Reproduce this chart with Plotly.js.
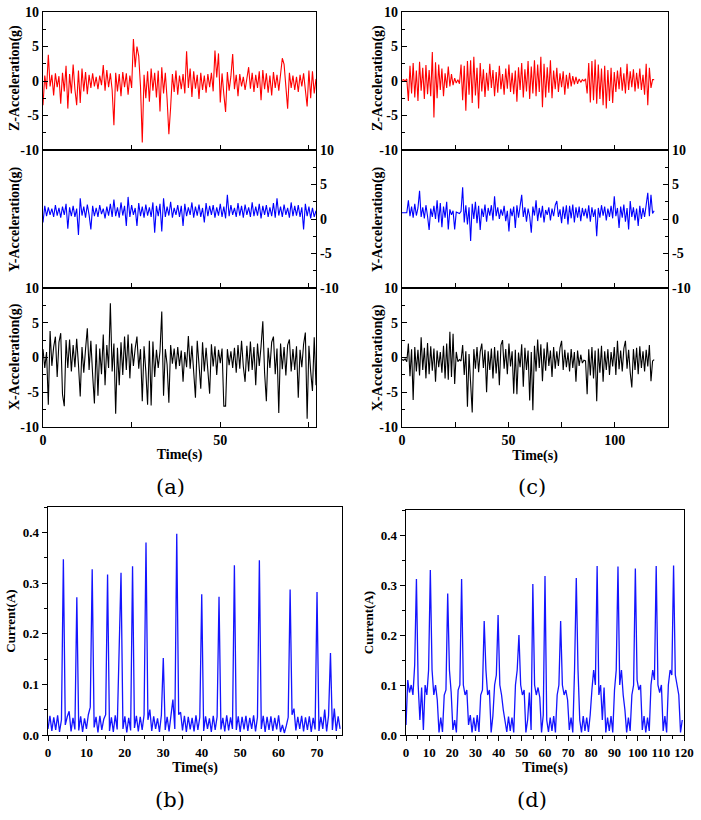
<!DOCTYPE html>
<html>
<head>
<meta charset="utf-8">
<script src="https://cdn.plot.ly/plotly-3.0.1.min.js"></script>
<style>
  body { margin: 0; background: #fff; }
  #chart { width: 701px; height: 820px; }
</style>
</head>
<body>
<div id="chart"></div>
<script>
// (a) accelerations, 0..77 s, one sample every 0.5 s
var stepA = 0.5;
var accZa = [-3.5,0.8,-1.2,3.8,-0.8,0.9,-2.1,1.1,-0.9,0.7,-3.3,1.2,-1.5,2.2,-4.0,1.0,-1.8,2.4,-1.2,-3.5,
  1.5,-3.2,1.8,-1.5,1.3,-1.9,0.9,-1.0,1.1,-0.8,0.6,-1.2,0.8,-0.6,2.3,-1.4,1.6,-0.9,1.1,-1.3,
  -6.4,1.2,-1.5,1.0,-2.2,1.3,-0.9,1.1,-2.0,0.8,-1.0,6.1,2.0,5.0,3.6,-0.8,-8.9,0.9,-2.5,1.4,
  -3.0,1.8,-1.4,1.2,-2.4,1.5,-4.4,2.0,-1.8,1.2,-2.6,-7.7,-3.8,1.0,-1.6,1.5,-2.0,0.8,-1.2,1.0,
  -1.8,4.3,-1.0,1.8,-2.3,1.4,-1.1,0.9,-2.6,1.2,-1.3,0.8,-1.7,1.0,-0.9,1.2,-1.5,4.4,0.5,4.0,
  -3.1,1.1,-1.9,-4.5,1.3,-1.4,0.7,3.9,-1.2,0.9,-2.2,1.0,-0.8,0.6,-1.3,0.7,2.0,-1.1,1.2,-1.6,
  0.9,-1.0,1.4,-2.8,1.6,-1.2,1.1,-1.7,0.8,-2.1,1.3,-1.0,0.9,-1.4,1.0,3.3,2.4,-1.5,-4.0,1.2,
  -1.0,0.8,-1.3,0.6,-1.6,0.9,-0.8,1.1,-1.2,-3.7,1.5,-2.5,1.4,-1.8,0.3];
var accYa = [-0.5,1.9,0.4,1.7,0.6,1.5,0.3,2.0,0.5,1.6,0.2,1.8,0.6,2.2,-1.4,1.7,0.4,1.9,0.3,1.5,
  -2.3,3.0,0.5,1.8,0.2,2.1,0.6,-1.5,1.9,0.4,1.6,0.3,2.0,0.7,1.5,0.1,1.8,0.5,2.2,0.3,
  2.8,0.4,1.7,0.2,2.4,0.5,1.9,-1.0,3.2,0.3,2.0,0.6,1.6,-1.0,2.3,0.4,1.8,0.2,2.1,0.5,
  1.7,0.3,2.4,-2.0,1.9,0.4,2.2,-1.8,3.0,0.3,1.8,0.5,2.5,0.2,1.6,0.6,2.0,0.3,1.9,-1.0,
  2.2,0.4,1.7,0.6,2.4,0.2,1.8,0.5,2.1,0.3,1.6,-0.5,2.3,0.4,1.9,0.6,2.0,0.2,1.7,0.5,
  2.2,0.3,1.8,0.1,3.5,0.4,2.0,0.6,1.6,0.3,2.3,0.5,1.9,0.2,2.1,0.6,1.7,0.3,2.4,0.4,
  1.8,0.5,2.2,0.1,1.9,0.6,2.0,0.3,1.7,0.4,2.3,0.2,3.0,0.5,1.8,0.3,2.1,0.6,1.6,0.2,
  2.4,0.4,1.9,0.5,2.0,0.3,1.7,-1.5,2.2,0.4,1.8,0.1,1.6,0.3,1.2];
var accXa = [1.2,-1.5,0.8,-6.8,3.8,-1.2,1.5,3.0,-2.8,2.2,3.5,-5.3,-7.0,2.5,-1.5,2.6,-2.0,1.8,-1.4,2.7,
  -1.0,-5.6,1.5,-2.2,1.2,4.2,-1.8,2.4,-2.5,-6.6,1.9,-5.5,1.3,-2.4,3.3,-4.0,1.8,-1.5,7.8,-2.0,
  2.0,-8.1,1.4,-4.0,2.2,-2.5,3.0,-1.8,3.3,-3.0,2.0,-1.2,1.3,3.0,-1.6,1.2,-6.3,1.6,-2.0,-6.8,
  2.4,-6.9,2.3,-2.8,1.1,-1.5,0.9,6.6,-5.5,1.2,-1.0,-6.5,1.8,-0.9,1.3,-1.7,1.5,-1.2,1.0,-3.5,
  0.8,-1.4,3.1,-1.6,1.7,-2.1,-5.8,2.4,-1.5,-4.5,2.2,-2.0,1.4,-1.6,-5.2,1.9,-1.3,1.6,-2.5,1.1,
  -0.8,1.3,-7.0,-7.0,1.2,-1.1,0.9,-1.5,1.4,-2.2,1.8,-1.6,2.4,-1.3,-3.5,1.7,-2.0,2.3,-1.8,1.5,
  -4.0,2.0,-1.2,1.6,5.2,-2.2,-6.3,1.4,-1.5,2.2,3.0,-2.4,1.3,-8.0,2.0,-1.7,1.5,-2.6,1.8,2.6,
  -2.0,1.2,-1.8,1.6,-5.8,1.1,-1.4,1.9,3.6,-8.8,1.7,-2.0,-4.8,2.9,-4.0];

// (c) accelerations, 0..118.5 s, one sample every 0.75 s
var stepC = 0.75;
var accZc = [0.1,0.2,0.0,0.3,-2.9,2.2,-1.8,2.6,-2.4,1.5,-2.9,2.8,-1.4,1.9,-2.6,2.3,-1.9,1.6,-2.2,4.2,
  -5.3,2.7,-2.5,2.4,-1.3,1.8,-2.2,1.1,-1.0,2.1,-0.8,1.0,-0.6,0.4,-0.3,0.2,-0.4,2.4,-2.8,2.2,
  -4.3,2.9,-2.0,3.0,-3.2,3.5,-2.1,1.9,-4.0,2.6,-1.5,1.7,-2.3,1.2,-1.4,2.5,-1.0,1.6,-2.2,1.3,
  -1.7,2.2,-1.2,1.0,-2.0,1.8,-1.1,2.4,-1.6,1.2,-1.9,1.5,-3.0,2.0,-1.3,2.6,-2.4,1.7,-1.5,2.9,
  -2.6,2.1,-1.8,3.0,-2.2,2.4,-1.6,3.5,-3.8,2.5,-2.4,2.0,-1.7,3.0,-2.5,1.5,-1.2,1.9,-1.6,1.1,
  -0.9,1.4,-2.0,0.9,-1.1,1.2,-0.8,0.7,-0.5,0.6,-0.4,0.3,-0.2,0.2,0.0,0.3,-1.8,2.6,-3.1,2.9,
  -2.8,3.1,-3.3,2.4,-2.6,1.8,-3.5,2.2,-4.0,1.6,-2.9,1.9,-3.2,1.3,-1.6,1.5,-1.2,2.0,-1.4,1.1,
  -1.8,2.5,-1.3,1.4,-0.9,1.7,-1.5,1.2,-1.1,1.8,-1.3,0.9,-2.0,2.5,-3.5,1.9,-1.0,0.2,0.2];
var accYc = [0.9,0.9,1.0,0.9,2.7,0.4,1.8,0.2,2.2,0.5,1.6,4.1,0.3,1.7,0.1,2.0,0.4,-1.6,1.5,0.3,
  1.9,0.0,2.7,-0.5,2.3,-1.2,1.8,0.2,2.5,-1.5,1.4,0.6,1.2,-1.5,1.0,0.9,0.8,1.1,4.6,-0.5,
  2.0,-0.8,1.7,-3.2,2.2,0.0,2.5,-0.6,1.9,-1.6,1.5,0.3,2.1,-0.4,1.6,0.5,2.0,-0.2,3.3,0.4,
  1.7,0.0,1.4,0.5,1.9,-0.3,1.2,-1.8,1.5,0.4,1.8,-1.3,2.0,0.2,1.6,3.5,0.3,1.7,-0.4,1.5,
  0.4,-2.0,1.8,0.5,2.7,-0.3,1.6,0.2,1.9,-0.5,1.3,0.6,1.7,-0.2,1.5,0.4,2.0,2.6,0.3,1.4,
  -0.6,1.8,0.0,2.0,-0.8,1.9,0.1,2.1,-0.5,1.7,0.2,1.8,-0.3,1.6,0.4,1.5,0.1,2.0,-0.4,1.7,
  0.3,1.4,-2.5,1.6,0.2,2.0,0.5,1.8,-0.2,1.5,0.3,1.9,0.1,3.3,0.4,1.6,-1.3,1.8,0.2,2.1,
  -0.4,1.6,-1.5,2.6,0.3,1.7,-0.2,1.5,-1.0,1.9,0.0,1.6,0.3,2.2,3.8,0.4,3.5,0.8,1.2];
var accXc = [-0.3,-0.4,-0.2,-0.6,2.0,-2.7,1.2,-6.1,1.5,-2.0,1.1,-2.6,2.9,-1.8,1.4,-3.0,2.1,-2.4,1.6,-1.9,
  1.3,-3.5,1.0,-1.4,0.8,-2.2,1.7,-3.0,2.0,-3.2,3.7,-2.8,3.4,-3.8,0.8,-0.6,-0.3,-0.5,1.8,-2.5,
  0.9,-7.1,0.5,-5.0,-7.9,1.2,-1.6,1.5,-2.1,0.8,2.0,-1.5,1.1,-5.0,0.9,-1.8,1.3,-3.0,1.5,-2.3,
  1.0,-4.0,1.8,2.5,-1.6,1.2,-2.4,2.0,-1.3,0.9,-5.2,1.1,-5.3,0.7,-1.4,1.9,-4.2,1.4,-1.8,1.0,
  -6.2,0.8,-7.6,1.7,-2.0,2.6,-1.5,1.9,-3.4,1.3,-1.9,2.2,-1.2,1.0,-2.8,1.5,-1.6,0.9,-1.2,1.4,
  2.4,-1.8,1.1,-1.4,0.7,-2.0,1.2,-1.5,0.8,-3.5,1.0,-1.2,0.4,-0.8,-0.4,-0.5,-5.3,1.2,-2.6,1.5,
  -3.0,1.0,-6.3,1.3,-2.2,1.7,-3.5,0.9,-1.8,1.2,-2.5,0.8,-1.3,1.5,-2.5,2.4,-1.7,1.0,-2.0,1.3,
  2.4,-1.6,1.1,-2.2,-4.3,1.2,-1.8,1.4,-2.4,1.6,-1.5,0.9,-2.0,1.1,-1.3,1.8,-3.4,-0.5,-0.3];

// (b) current, 0..76 s, one sample every 0.5 s
var stepB = 0.5;
var currentB = [0.012,0.038,0.008,0.035,0.010,0.039,0.006,0.030,0.347,0.020,0.036,0.047,0.007,0.034,0.011,0.272,0.009,0.037,0.006,0.033,
  0.012,0.040,0.055,0.327,0.015,0.036,0.005,0.038,0.010,0.031,0.040,0.317,0.008,0.035,0.006,0.039,0.011,0.170,0.320,0.012,
  0.037,0.005,0.034,0.009,0.333,0.014,0.038,0.007,0.036,0.010,0.040,0.380,0.030,0.050,0.008,0.037,0.012,0.033,0.006,0.039,
  0.152,0.010,0.036,0.007,0.035,0.070,0.012,0.397,0.040,0.045,0.009,0.038,0.006,0.036,0.011,0.034,0.007,0.039,0.010,0.035,
  0.278,0.008,0.037,0.012,0.033,0.006,0.038,0.010,0.036,0.273,0.011,0.034,0.007,0.039,0.009,0.035,0.012,0.335,0.010,0.037,
  0.006,0.036,0.011,0.038,0.008,0.034,0.012,0.039,0.007,0.035,0.345,0.012,0.038,0.006,0.036,0.010,0.037,0.008,0.034,0.011,
  0.039,0.006,0.020,0.004,0.018,0.035,0.287,0.040,0.052,0.009,0.036,0.012,0.038,0.007,0.035,0.010,0.037,0.006,0.034,0.011,
  0.282,0.008,0.036,0.012,0.050,0.007,0.038,0.162,0.010,0.052,0.008,0.037,0.012];

// (d) current, 0..119.25 s, one sample every 0.75 s
var stepD = 0.75;
var currentD = [0.020,0.110,0.085,0.100,0.080,0.140,0.312,0.100,0.030,0.095,0.010,0.100,0.080,0.130,0.330,0.130,0.080,0.100,0.070,0.005,
  0.035,0.006,0.080,0.090,0.283,0.130,0.085,0.010,0.030,0.005,0.090,0.100,0.312,0.100,0.080,0.090,0.020,0.040,0.005,0.035,
  0.008,0.040,0.006,0.080,0.090,0.228,0.130,0.080,0.090,0.005,0.038,0.100,0.120,0.240,0.100,0.080,0.050,0.030,0.006,0.037,
  0.008,0.035,0.005,0.100,0.130,0.200,0.100,0.080,0.090,0.005,0.030,0.085,0.010,0.302,0.100,0.080,0.095,0.075,0.005,0.040,
  0.318,0.030,0.006,0.035,0.008,0.038,0.005,0.080,0.100,0.228,0.100,0.080,0.090,0.070,0.010,0.035,0.005,0.130,0.314,0.130,
  0.030,0.005,0.038,0.008,0.035,0.006,0.040,0.090,0.130,0.100,0.338,0.080,0.100,0.030,0.095,0.005,0.035,0.008,0.038,0.005,
  0.090,0.130,0.337,0.100,0.130,0.080,0.050,0.005,0.035,0.008,0.080,0.100,0.333,0.110,0.090,0.100,0.010,0.038,0.005,0.035,
  0.008,0.100,0.130,0.110,0.338,0.100,0.085,0.100,0.008,0.038,0.005,0.100,0.130,0.120,0.339,0.120,0.100,0.080,0.005,0.030];

// tick labels
var accTickVals = [-10, -5, 0, 5, 10];
var accTickText = ['-10', '-5', '0', '5', '10'];
var timeTickValsA = [0, 25, 50, 75];
var timeTickTextA = ['0', '', '50', ''];
var timeTickValsC = [0, 25, 50, 75, 100, 125];
var timeTickTextC = ['0', '', '50', '', '100', ''];
var captions = ['(a)', '(b)', '(c)', '(d)'];

var W = 701, H = 820;
function px(x) { return x / W; }
function py(y) { return 1 - y / H; }

var tickFont = {family: 'Liberation Serif', size: 14, color: '#000', weight: 'bold'};
var titleFont = {family: 'Liberation Serif', size: 14, color: '#000', weight: 'bold'};

function accX(dom, range, vals, text, labels) {
  return {
    domain: dom, range: range, tickmode: 'array', tickvals: vals, ticktext: text,
    showticklabels: labels, ticks: 'inside', ticklen: 5, tickwidth: 1, tickcolor: '#000',
    showline: true, linecolor: '#000', linewidth: 1.3, mirror: true,
    showgrid: false, zeroline: false, tickfont: tickFont, fixedrange: true
  };
}
function accY(dom, side) {
  return {
    domain: dom, range: [-10, 10], side: side, tickmode: 'array',
    tickvals: accTickVals, ticktext: accTickText,
    ticks: 'inside', ticklen: 5, tickwidth: 1, tickcolor: '#000',
    minor: {dtick: 2.5, ticks: 'inside', ticklen: 3, tickcolor: '#000', showgrid: false},
    showline: true, linecolor: '#000', linewidth: 1.3, mirror: true,
    showgrid: false, zeroline: false, tickfont: tickFont, fixedrange: true
  };
}
function curX(dom, range, dtick) {
  return {
    domain: dom, range: range, dtick: dtick, tick0: 0,
    ticks: 'outside', ticklen: 5, tickwidth: 1, tickcolor: '#000',
    minor: {dtick: dtick / 2, ticks: 'outside', ticklen: 3, tickcolor: '#000', showgrid: false},
    showline: true, linecolor: '#000', linewidth: 1.3, mirror: true,
    showgrid: false, zeroline: false, tickfont: {family: 'Liberation Serif', size: 13, color: '#000', weight: 'bold'},
    title: {text: 'Time(s)', font: titleFont, standoff: 2}, fixedrange: true
  };
}
function curY(dom) {
  return {
    domain: dom, range: [0, 0.45], dtick: 0.1, tick0: 0, tickformat: '.1f',
    ticks: 'outside', ticklen: 5, tickwidth: 1, tickcolor: '#000',
    minor: {dtick: 0.05, ticks: 'outside', ticklen: 3, tickcolor: '#000', showgrid: false},
    showline: true, linecolor: '#000', linewidth: 1.3, mirror: true,
    showgrid: false, zeroline: false, tickfont: {family: 'Liberation Serif', size: 13, color: '#000', weight: 'bold'},
    title: {text: 'Current(A)', font: {family: 'Liberation Serif', size: 13, color: '#000', weight: 'bold'}, standoff: 4},
    fixedrange: true
  };
}

function line(y, step, color, xa, ya, w) {
  return {y: y, x0: 0, dx: step, type: 'scatter', mode: 'lines',
    line: {color: color, width: w}, xaxis: xa, yaxis: ya, hoverinfo: 'skip'};
}

var data = [
  line(accZa, stepA, '#ff0000', 'x', 'y', 1.1),
  line(accYa, stepA, '#0000ff', 'x2', 'y2', 1.1),
  line(accXa, stepA, '#000000', 'x3', 'y3', 1.1),
  line(accZc, stepC, '#ff0000', 'x4', 'y4', 1.1),
  line(accYc, stepC, '#0000ff', 'x5', 'y5', 1.1),
  line(accXc, stepC, '#000000', 'x6', 'y6', 1.1),
  line(currentB, stepB, '#1414ff', 'x7', 'y7', 1.3),
  line(currentD, stepD, '#1414ff', 'x8', 'y8', 1.3)
];

var domA = [px(43), px(316)], domC = [px(402), px(668)];
var dZ = [py(150), py(12)], dY = [py(288), py(150)], dX = [py(427), py(288)];

var layout = {
  width: W, height: H, margin: {l: 0, r: 0, t: 0, b: 0},
  paper_bgcolor: '#fff', plot_bgcolor: '#fff', showlegend: false,
  xaxis: accX(domA, [0, 77], timeTickValsA, timeTickTextA, false),
  xaxis2: accX(domA, [0, 77], timeTickValsA, timeTickTextA, false),
  xaxis3: Object.assign(accX(domA, [0, 77], timeTickValsA, timeTickTextA, true),
    {title: {text: 'Time(s)', font: titleFont, standoff: 2}}),
  xaxis4: accX(domC, [0, 125], timeTickValsC, timeTickTextC, false),
  xaxis5: accX(domC, [0, 125], timeTickValsC, timeTickTextC, false),
  xaxis6: Object.assign(accX(domC, [0, 125], timeTickValsC, timeTickTextC, true),
    {title: {text: 'Time(s)', font: titleFont, standoff: 2}}),
  yaxis: Object.assign(accY(dZ, 'left'), {anchor: 'x'}),
  yaxis2: Object.assign(accY(dY, 'right'), {anchor: 'x2'}),
  yaxis3: Object.assign(accY(dX, 'left'), {anchor: 'x3'}),
  yaxis4: Object.assign(accY(dZ, 'left'), {anchor: 'x4'}),
  yaxis5: Object.assign(accY(dY, 'right'), {anchor: 'x5'}),
  yaxis6: Object.assign(accY(dX, 'left'), {anchor: 'x6'}),
  xaxis7: Object.assign(curX([px(48), px(342)], [0, 76.5], 10), {anchor: 'y7'}),
  yaxis7: Object.assign(curY([py(735), py(507)]), {anchor: 'x7'}),
  xaxis8: Object.assign(curX([px(406), px(684)], [0, 120], 10), {anchor: 'y8'}),
  yaxis8: Object.assign(curY([py(735), py(510)]), {anchor: 'x8'}),
  annotations: []
};
['x', 'x2', 'x3', 'x4', 'x5', 'x6'].forEach(function (xa, i) {
  layout['xaxis' + (i ? i + 1 : '')].anchor = 'y' + (i ? i + 1 : '');
});

// rotated axis names for the acceleration panels
var accNames = ['Z-Acceleration(g)', 'Y-Acceleration(g)', 'X-Acceleration(g)'];
var accCenters = [78, 219, 357];
[15, 378].forEach(function (xPix) {
  accNames.forEach(function (name, k) {
    layout.annotations.push({
      text: name, xref: 'paper', yref: 'paper', x: px(xPix), y: py(accCenters[k]),
      xanchor: 'center', yanchor: 'middle', textangle: -90, showarrow: false, font: titleFont
    });
  });
});

// panel captions
var capPos = [[170, 487], [170, 800], [532, 487], [532, 800]];
captions.forEach(function (c, k) {
  layout.annotations.push({
    text: c, xref: 'paper', yref: 'paper', x: px(capPos[k][0]), y: py(capPos[k][1]),
    xanchor: 'center', yanchor: 'middle', showarrow: false,
    font: {family: 'DejaVu Serif', size: 21, color: '#000', weight: 500}
  });
});

Plotly.newPlot('chart', data, layout, {staticPlot: true});
</script>
</body>
</html>
